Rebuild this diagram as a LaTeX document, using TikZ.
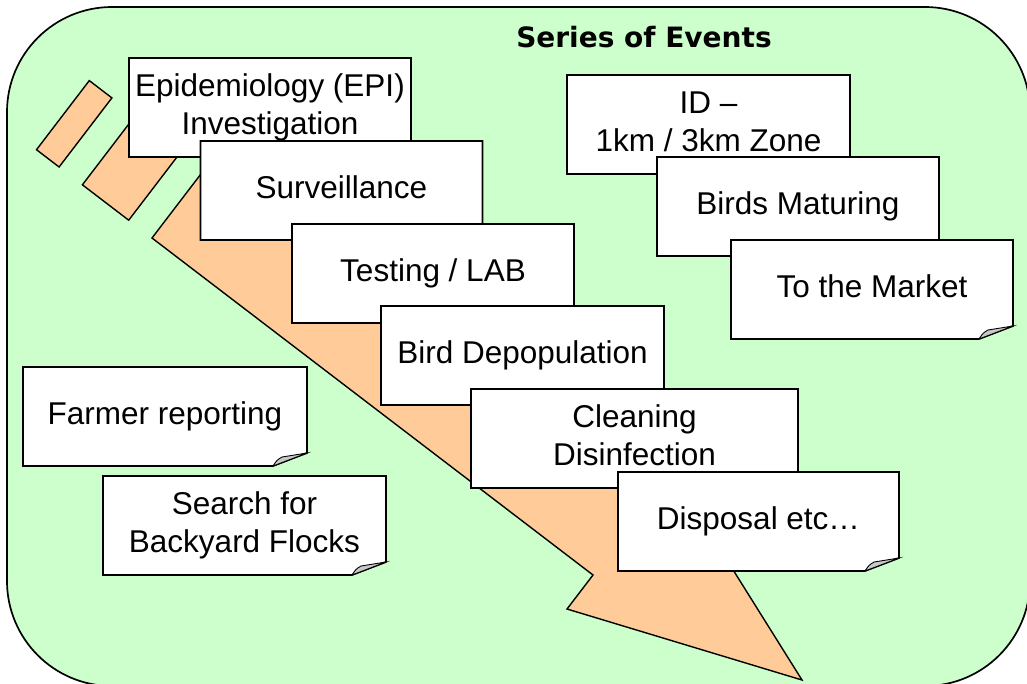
\documentclass[tikz,border=0pt]{standalone}
\usepackage{fontspec}
\setmainfont{Liberation Sans}
\newfontfamily\titlefont{DejaVu Sans}
\definecolor{bggreen}{HTML}{CCFFCC}
\definecolor{arroworange}{HTML}{FFCC99}
\definecolor{foldgray}{HTML}{C8C8C8}
\tikzset{
  panel/.style={draw=black, line width=1.7pt, fill=bggreen, rounded corners=105pt},
  bigarrow/.style={draw=black, line width=1.4pt, fill=arroworange, line join=miter},
  notepaper/.style={draw=black, line width=1.7pt, fill=white, line join=miter},
  notefold/.style={draw=black, line width=0.9pt, fill=foldgray},
  notetext/.style={font=\fontsize{31.5}{38}\selectfont, align=center, text depth=0pt, inner sep=0pt},
  oneline/.style={notetext, text height=22pt},
  twoline/.style={notetext, text height=60pt},
  titletext/.style={font=\titlefont\bfseries\fontsize{28}{34}\selectfont, inner sep=0pt, text height=20.5pt, text depth=0pt}
}
\newcommand\notecard[6]{%
  \draw[notepaper] (#2,#3) -- (#2+#4,#3) -- (#2+#4,#3+86) -- (#2+#4-34,#3+99) -- (#2,#3+99) -- cycle;
  \draw[notefold] (#2+#4-34,#3+99) .. controls (#2+#4-30,#3+93) .. (#2+#4-25,#3+90) -- (#2+#4,#3+86) -- cycle;
  \node[#5] (#1) at (#2+#4/2,#3+46.5) {#6};
}
\begin{document}
\begin{tikzpicture}[x=1pt,y=-1pt]
\useasboundingbox (0,0) rectangle (1027,683);
\draw[panel] (7,7) rectangle (1030,686);
% striped arrow
\draw[bigarrow] (152,238) -- (204.8,168.9) -- (645.5,505.8) -- (671.6,471.7) -- (802,680) -- (567,609) -- (593,575) -- cycle;
\draw[bigarrow] (82.4,184.8) -- (135.2,115.7) -- (181.5,151.1) -- (128.7,220.2) -- cycle;
\draw[bigarrow] (36.5,149.7) -- (89.3,80.6) -- (111.9,97.9) -- (59.1,167) -- cycle;
% title
\node[titletext] (title) at (644,37.5) {Series of Events};
% cascade
\notecard{epi}{129}{58}{282}{twoline}{Epidemiology (EPI)\\Investigation}
\notecard{surv}{200.5}{141}{282}{oneline}{Surveillance}
\notecard{test}{292}{224}{282}{oneline}{Testing / LAB}
\notecard{depop}{381}{306}{283}{oneline}{Bird Depopulation}
\notecard{clean}{471}{389}{327}{twoline}{Cleaning\\Disinfection}
\notecard{disp}{618}{472}{281}{oneline}{Disposal etc…}
% right group
\notecard{zone}{567}{75}{283}{twoline}{ID –\\1km / 3km Zone}
\notecard{mature}{657}{157}{282}{oneline}{Birds Maturing}
\notecard{market}{731}{240}{282}{oneline}{To the Market}
% left group
\notecard{farmer}{23}{367}{284}{oneline}{Farmer reporting}
\notecard{search}{103}{476}{283}{twoline}{Search for\\Backyard Flocks}
\end{tikzpicture}
\end{document}
